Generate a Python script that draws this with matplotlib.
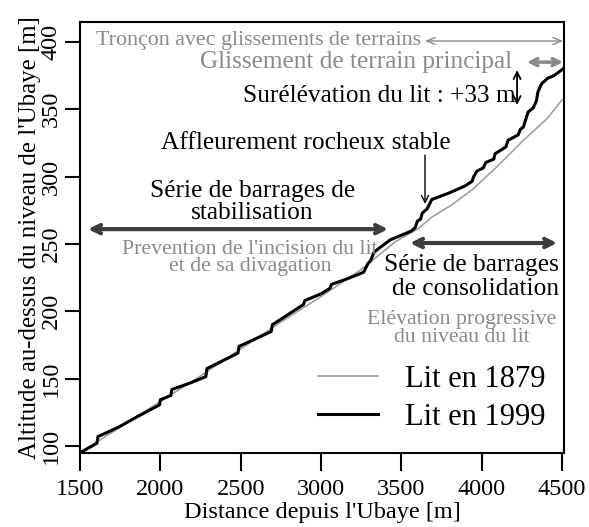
import matplotlib
matplotlib.use("Agg")
import matplotlib.pyplot as plt

plt.rcParams['font.family'] = ['Liberation Serif', 'DejaVu Serif']

# ---- data ----
x_1879 = [1500, 1750, 2000, 2250, 2500, 2750, 3000, 3250, 3460, 3606, 3690,
          3813, 3938, 4083, 4260, 4406, 4500]
y_1879 = [95, 114, 133, 152, 172, 192, 211, 231, 251.5, 261.5, 270,
          279, 290, 306, 327, 343, 357]

x_1999 = [1500, 1605, 1612, 1740, 1860, 1995, 2000, 2065, 2072, 2180, 2283, 2290,
          2400, 2483, 2490, 2600, 2690, 2697, 2800, 2890, 2900, 3000, 3055, 3065,
          3160, 3265, 3290, 3310, 3330, 3430, 3560, 3585, 3600, 3620, 3630, 3660,
          3689, 3800, 3895, 3940, 3950, 3969, 4010, 4025, 4075, 4083, 4150, 4164,
          4227, 4240, 4260, 4275, 4289, 4320, 4340, 4350, 4373, 4410, 4450, 4506]
y_1999 = [95, 102, 107, 114, 122, 130.5, 134.3, 137.5, 142, 146.5, 151.5, 157.5,
          164, 169, 174, 180, 185, 190, 198, 205, 208, 213, 217, 220,
          224, 229, 235, 238, 244, 253, 259.5, 262, 267, 268.5, 273, 276,
          283, 288, 293, 296.5, 300, 304, 306.5, 310.5, 313, 317, 322, 327,
          331, 335, 337, 343, 348, 351, 356, 363, 369, 373, 375, 380]

x_ticks = [1500, 2000, 2500, 3000, 3500, 4000, 4500]
y_ticks = [100, 150, 200, 250, 300, 350, 400]
series_labels = ["Lit en 1879", "Lit en 1999"]

GRAY_LINE = '#a0a0a0'
GRAY_TEXT = '#8a8a8a'
DARK = '#3c3c3c'
FS_BLACK = 18.3
FS_GRAY = 15.7

fig = plt.figure(figsize=(5.89, 5.27), dpi=100)
ax = fig.add_axes([80/589, (527-453)/527, (564-80)/589, (453-22)/527])

l1, = ax.plot(x_1879, y_1879, color=GRAY_LINE, lw=1.2)
l2, = ax.plot(x_1999, y_1999, color='black', lw=2.2)

ax.set_xlim(1500, 4512)
ax.set_ylim(94.8, 414.8)
ax.set_xticks(x_ticks)
ax.set_yticks(y_ticks)
ax.tick_params(axis='x', length=13, width=1.5, pad=6, labelsize=17.5)
ax.tick_params(axis='y', length=11, width=1.5, pad=2, labelsize=17.5)
for lab in ax.get_yticklabels():
    lab.set_rotation(90)
    lab.set_va('center')
for s in ax.spines.values():
    s.set_linewidth(1.5)

ax.set_xlabel("Distance depuis l'Ubaye [m]", fontsize=17.5, labelpad=1)
ax.set_ylabel("Altitude au-dessus du niveau de l'Ubaye [m]", fontsize=17.9, labelpad=0)

# ---- annotations ----
ax.text(2611, 401.4, "Tronçon avec glissements de terrains", color=GRAY_TEXT,
        fontsize=15.8, ha='center', va='center')
ax.annotate('', xy=(3647, 400.7), xytext=(4506, 400.7),
            arrowprops=dict(arrowstyle='<->,head_length=0.6,head_width=0.25',
                            color=GRAY_TEXT, lw=1.0, shrinkA=0, shrinkB=0))

ax.text(4189, 385, "Glissement de terrain principal", color=GRAY_TEXT,
        fontsize=18.2, ha='right', va='center')
ax.annotate('', xy=(4282, 385), xytext=(4506, 385),
            arrowprops=dict(arrowstyle='<->,head_length=0.5,head_width=0.25',
                            color=GRAY_TEXT, lw=2.5, shrinkA=0, shrinkB=0))

ax.text(2514, 359.8, "Surélévation du lit : +33 m", color='black',
        fontsize=FS_BLACK, ha='left', va='center')
ax.annotate('', xy=(4220, 379.1), xytext=(4220, 353.2),
            arrowprops=dict(arrowstyle='<->,head_length=0.5,head_width=0.25',
                            color='black', lw=1.3, shrinkA=0, shrinkB=0))

ax.text(2907, 325, "Affleurement rocheux stable", color='black',
        fontsize=FS_BLACK, ha='center', va='center')
ax.annotate('', xy=(3647, 279.7), xytext=(3647, 316),
            arrowprops=dict(arrowstyle='->,head_length=0.5,head_width=0.25',
                            color='black', lw=1.0, shrinkA=0, shrinkB=0))

ax.text(2571, 281.5, "Série de barrages de\nstabilisation", color='black',
        fontsize=FS_BLACK, ha='center', va='center', linespacing=1.0)
ax.annotate('', xy=(1550, 261), xytext=(3417, 261),
            arrowprops=dict(arrowstyle='<->,head_length=0.6,head_width=0.3',
                            color=DARK, lw=3, shrinkA=0, shrinkB=0))

ax.text(2558, 239.5, "Prevention de l'incision du lit\net de sa divagation",
        color=GRAY_TEXT, fontsize=FS_GRAY, ha='center', va='center', linespacing=0.86)

ax.annotate('', xy=(3554, 250.7), xytext=(4469, 250.7),
            arrowprops=dict(arrowstyle='<->,head_length=0.6,head_width=0.3',
                            color=DARK, lw=3, shrinkA=0, shrinkB=0))
ax.text(4481, 225.5, "Série de barrages\nde consolidation", color='black',
        fontsize=FS_BLACK, ha='right', va='center', linespacing=1.15)
ax.text(3878, 187, "Elévation progressive\ndu niveau du lit", color=GRAY_TEXT,
        fontsize=FS_GRAY, ha='center', va='center', linespacing=0.92)

ax.legend([l1, l2], series_labels, loc='upper left', bbox_to_anchor=(0.492, 0.205),
          frameon=False, fontsize=22, handlelength=1.95, handletextpad=0.9,
          labelspacing=0.3, borderpad=0, borderaxespad=0)

fig.savefig('out.png', dpi=100)
